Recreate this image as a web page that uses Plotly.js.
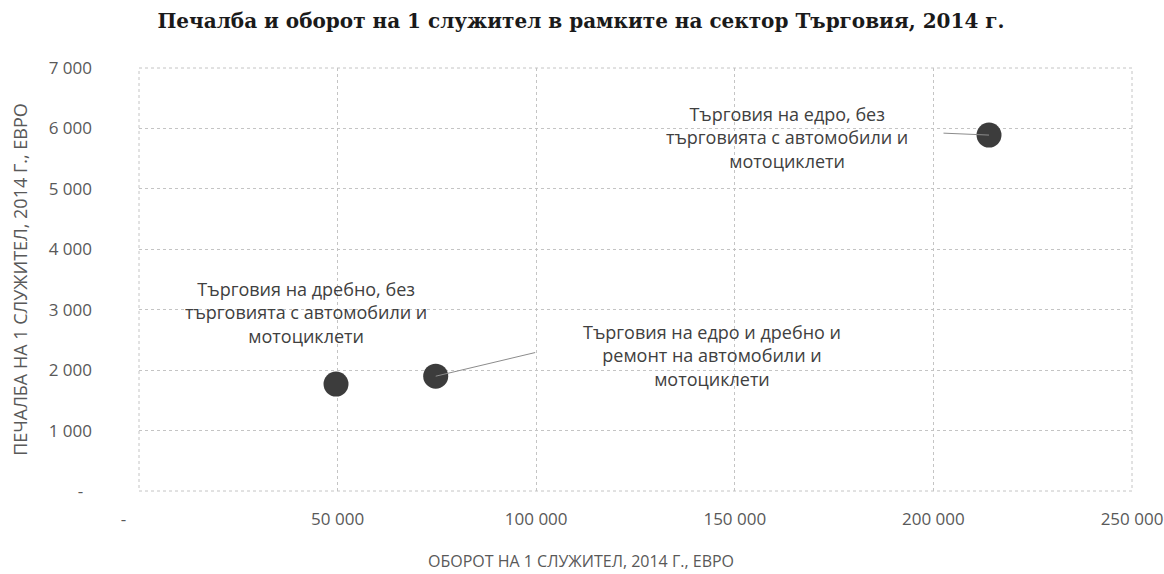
<!DOCTYPE html>
<html>
<head>
<meta charset="utf-8">
<script src="https://cdn.plot.ly/plotly-3.0.1.min.js"></script>
<style>html,body{margin:0;padding:0;background:#fff;}#chart{width:1164px;height:574px;}</style>
</head>
<body>
<div id="chart"></div>
<script>
// Data
const categories = [
  "Търговия на дребно, без<br>търговията с автомобили и<br>мотоциклети",
  "Търговия на едро и дребно и<br>ремонт на автомобили и<br>мотоциклети",
  "Търговия на едро, без<br>търговията с автомобили и<br>мотоциклети"
];
const turnoverPerEmployee = [49600, 74700, 214000];
const profitPerEmployee = [1770, 1900, 5890];

const xTickVals = [0, 50000, 100000, 150000, 200000, 250000];
const xTickText = ["-\u00a0\u00a0\u00a0\u00a0\u00a0\u00a0\u00a0", "50 000", "100 000", "150 000", "200 000", "250 000"];
const yTickVals = [0, 1000, 2000, 3000, 4000, 5000, 6000, 7000];
const yTickText = ["-\u00a0\u00a0", "1 000", "2 000", "3 000", "4 000", "5 000", "6 000", "7 000"];

const chartTitle = "Печалба и оборот на 1 служител в рамките на сектор Търговия, 2014 г.";
const xTitle = "ОБОРОТ НА 1 СЛУЖИТЕЛ, 2014 Г., ЕВРО";
const yTitle = "ПЕЧАЛБА НА 1 СЛУЖИТЕЛ, 2014 Г., ЕВРО";

// Label placement (pixel offsets from each point) and leader-line offsets
const labelShift = [
  {dx: -30, dy: 72},
  {dx: 276, dy: 21},
  {dx: -202, dy: -2}
];
const leaderOffset = [null, {ax: 101, ay: -24}, {ax: -47, ay: -2}];

const baseFont = "Open Sans, Liberation Sans, sans-serif";

const trace = {
  type: "scatter",
  mode: "markers",
  x: turnoverPerEmployee,
  y: profitPerEmployee,
  marker: {size: 25, color: "#3c3c3c", line: {width: 0}},
  hoverinfo: "x+y"
};

const annotations = [];
categories.forEach((c, i) => {
  const L = leaderOffset[i];
  if (L) {
    annotations.push({
      x: turnoverPerEmployee[i], y: profitPerEmployee[i], xref: "x", yref: "y",
      text: "", showarrow: true, ax: L.ax, ay: L.ay,
      arrowhead: 0, arrowwidth: 1, arrowcolor: "#8c8c8c", standoff: 0, startstandoff: 0
    });
  }
  annotations.push({
    x: turnoverPerEmployee[i], y: profitPerEmployee[i], xref: "x", yref: "y",
    text: c, showarrow: false, xshift: labelShift[i].dx, yshift: labelShift[i].dy,
    font: {family: baseFont, size: 18, color: "#404040"}, align: "center"
  });
});

annotations.push({
  text: xTitle, xref: "paper", yref: "paper", x: (581 - 139) / (1132 - 139), y: -(561 - 491) / (491 - 68),
  xanchor: "center", yanchor: "middle", showarrow: false,
  font: {family: baseFont, size: 16, color: "#595959"}
});

const layout = {
  width: 1164, height: 574,
  margin: {l: 139, r: 32, t: 68, b: 83},
  paper_bgcolor: "#ffffff", plot_bgcolor: "#ffffff",
  showlegend: false,
  title: {
    text: "<b>" + chartTitle + "</b>",
    font: {family: "DejaVu Serif, Liberation Serif, serif", size: 20, color: "#1a1a1a"},
    x: 581 / 1164, xanchor: "center", y: 1 - 21 / 574, yanchor: "middle"
  },
  xaxis: {
    range: [0, 250000],
    tickmode: "array", tickvals: xTickVals, ticktext: xTickText,
    showgrid: true, gridcolor: "#c4c4c4", griddash: "dot", gridwidth: 1,
    zeroline: false, showline: false, ticks: "",
    ticklabelstandoff: 16,
    tickfont: {family: baseFont, size: 17, color: "#595959"},
    fixedrange: true
  },
  yaxis: {
    range: [0, 7000],
    tickmode: "array", tickvals: yTickVals, ticktext: yTickText,
    showgrid: true, gridcolor: "#c4c4c4", griddash: "dot", gridwidth: 1,
    zeroline: false, showline: false, ticks: "",
    ticklabelstandoff: 46,
    tickfont: {family: baseFont, size: 17, color: "#595959"},
    title: {text: yTitle, font: {family: baseFont, size: 18, color: "#595959"}, standoff: 16},
    fixedrange: true
  },
  shapes: [{
    type: "rect", xref: "paper", yref: "paper", x0: 0, x1: 1, y0: 0, y1: 1,
    line: {color: "#c4c4c4", width: 1, dash: "dot"}, layer: "below"
  }],
  annotations: annotations
};

Plotly.newPlot("chart", [trace], layout, {displayModeBar: false, staticPlot: true});
</script>
</body>
</html>
